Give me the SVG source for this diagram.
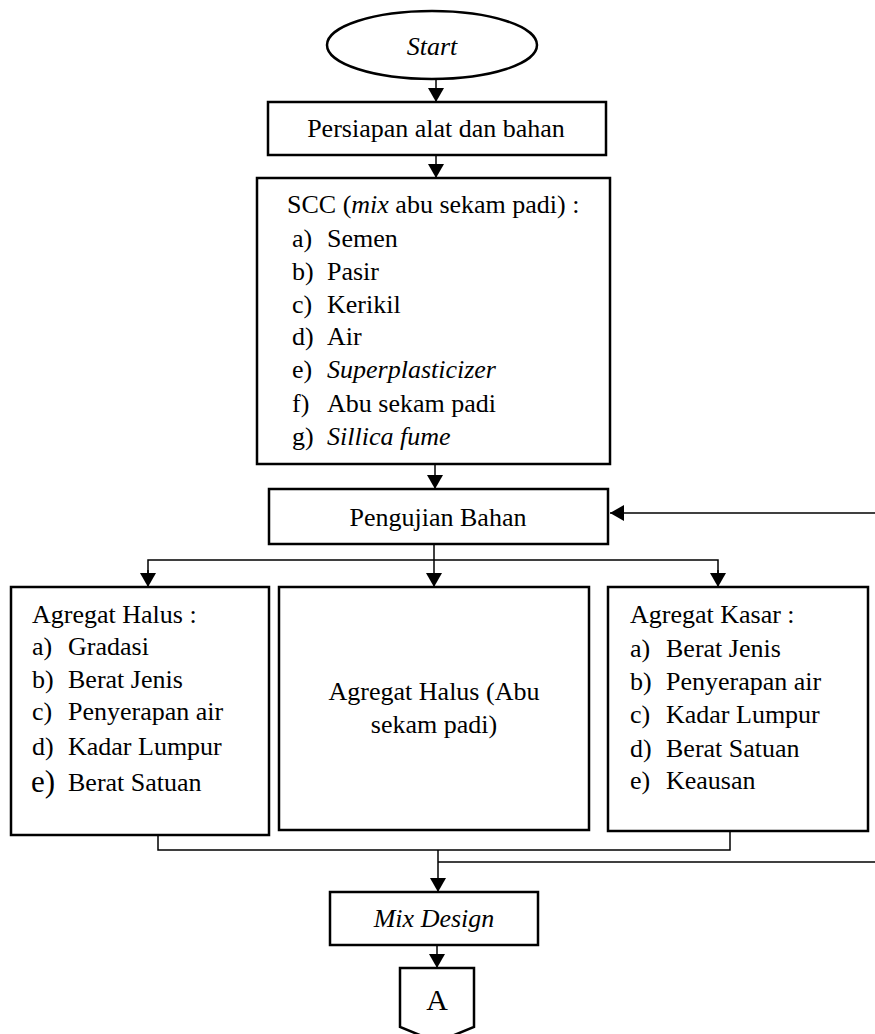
<svg xmlns="http://www.w3.org/2000/svg" width="875" height="1034" viewBox="0 0 875 1034">
<style>
.box{fill:#fff;stroke:#000;stroke-width:2.5}
.ln{fill:none;stroke:#000;stroke-width:1.5}
text{font-family:'Liberation Serif',Tinos,'Times New Roman','DejaVu Serif','Noto Serif',serif;font-size:26px;fill:#000}
.c{text-anchor:middle}
.i{font-style:italic}
</style>
<defs>
<marker id="ah" markerUnits="userSpaceOnUse" markerWidth="16" markerHeight="18" refX="14" refY="8" orient="auto" viewBox="0 0 16 18">
<path d="M0,0 L14,8 L0,16 z" fill="#000"/>
</marker>
</defs>
<rect width="875" height="1034" fill="#fff"/>
<g id="connectors">
<line class="ln" x1="436" y1="80" x2="436" y2="102" marker-end="url(#ah)"/>
<line class="ln" x1="436" y1="155" x2="436" y2="178" marker-end="url(#ah)"/>
<line class="ln" x1="435" y1="464" x2="435" y2="489" marker-end="url(#ah)"/>
<line class="ln" x1="434" y1="544" x2="434" y2="587" marker-end="url(#ah)"/>
<polyline class="ln" points="148,583 148,560 718,560 718,583"/>
<line class="ln" x1="148" y1="570" x2="148" y2="587" marker-end="url(#ah)"/>
<line class="ln" x1="718" y1="570" x2="718" y2="587" marker-end="url(#ah)"/>
<line class="ln" x1="875" y1="513" x2="610" y2="513" marker-end="url(#ah)"/>
<polyline class="ln" points="158,835 158,850 730,850 730,831"/>
<line class="ln" x1="438" y1="850" x2="438" y2="892" marker-end="url(#ah)"/>
<line class="ln" x1="438" y1="862" x2="875" y2="862"/>
<line class="ln" x1="437" y1="945" x2="437" y2="968" marker-end="url(#ah)"/>
</g>
<g id="start">
<ellipse cx="432" cy="45" rx="105" ry="34" fill="#fff" stroke="#000" stroke-width="2.5"/>
<text class="c i" x="432" y="55">Start</text>
</g>
<g id="persiapan">
<rect class="box" x="268" y="102" width="338" height="53"/>
<text class="c" x="436" y="137">Persiapan alat dan bahan</text>
</g>
<g id="scc">
<rect class="box" x="257" y="178" width="353" height="286"/>
<text x="287" y="213">SCC (<tspan class="i">mix</tspan> abu sekam padi) :</text>
<text x="292" y="247">a)</text><text x="327" y="247">Semen</text>
<text x="292" y="280">b)</text><text x="327" y="280">Pasir</text>
<text x="292" y="313">c)</text><text x="327" y="313">Kerikil</text>
<text x="292" y="345">d)</text><text x="327" y="345">Air</text>
<text x="292" y="378">e)</text><text class="i" x="327" y="378">Superplasticizer</text>
<text x="292" y="412">f)</text><text x="327" y="412">Abu sekam padi</text>
<text x="292" y="445">g)</text><text class="i" x="327" y="445">Sillica fume</text>
</g>
<g id="pengujian">
<rect class="box" x="269" y="489" width="339" height="55"/>
<text class="c" x="438" y="526">Pengujian Bahan</text>
</g>
<g id="agregat-halus">
<rect class="box" x="11" y="587" width="258" height="248"/>
<text x="32" y="623">Agregat Halus :</text>
<text x="32" y="655">a)</text><text x="68" y="655">Gradasi</text>
<text x="32" y="688">b)</text><text x="68" y="688">Berat Jenis</text>
<text x="32" y="720">c)</text><text x="68" y="720">Penyerapan air</text>
<text x="32" y="755">d)</text><text x="68" y="755">Kadar Lumpur</text>
<text x="31" y="792" style="font-size:31px">e)</text><text x="68" y="791">Berat Satuan</text>
</g>
<g id="agregat-halus-abu">
<rect class="box" x="279" y="587" width="310" height="243"/>
<text class="c" x="434" y="700">Agregat Halus (Abu</text>
<text class="c" x="434" y="733">sekam padi)</text>
</g>
<g id="agregat-kasar">
<rect class="box" x="608" y="587" width="260" height="244"/>
<text x="630" y="623">Agregat Kasar :</text>
<text x="630" y="657">a)</text><text x="666" y="657">Berat Jenis</text>
<text x="630" y="690">b)</text><text x="666" y="690">Penyerapan air</text>
<text x="630" y="723">c)</text><text x="666" y="723">Kadar Lumpur</text>
<text x="630" y="757">d)</text><text x="666" y="757">Berat Satuan</text>
<text x="630" y="789">e)</text><text x="666" y="789">Keausan</text>
</g>
<g id="mix-design">
<rect class="box" x="330" y="892" width="208" height="53"/>
<text class="c i" x="434" y="927">Mix Design</text>
</g>
<g id="connector-a">
<path class="box" d="M400,968 L474,968 L474,1027 L437,1042 L400,1027 z"/>
<text class="c" x="437" y="1010" style="font-size:30px">A</text>
</g>
</svg>
